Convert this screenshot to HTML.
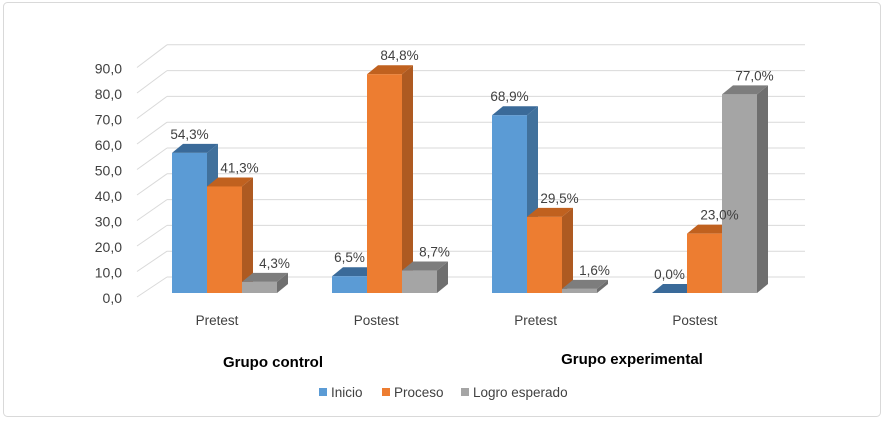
<!DOCTYPE html>
<html><head><meta charset="utf-8"><style>
body{margin:0;background:#fff}
svg{display:block;font-family:"Liberation Sans",sans-serif}
</style></head><body>
<svg id="c" width="884" height="421" viewBox="0 0 884 421">
<rect x="3.5" y="2.5" width="877" height="414" rx="4" fill="#fff" stroke="#d9d9d9"/>
<g id="grid"></g><g id="bars"></g><g id="labels"></g>
<text x="273" y="367" font-size="15" font-weight="bold" fill="#000" text-anchor="middle">Grupo control</text>
<text x="632" y="364" font-size="15" font-weight="bold" fill="#000" text-anchor="middle">Grupo experimental</text>
<g font-size="13.5" fill="#404040">
<rect x="319" y="388" width="8" height="8" fill="#5b9bd5"/>
<text x="331" y="397">Inicio</text>
<rect x="382" y="388" width="8" height="8" fill="#ed7d31"/>
<text x="394" y="397">Proceso</text>
<rect x="461" y="388" width="8" height="8" fill="#a5a5a5"/>
<text x="473" y="397">Logro esperado</text>
</g>
</svg>
<script>
const categories=["Pretest","Postest","Pretest","Postest"];
const inicio=[54.3,6.5,68.9,0.0];
const proceso=[41.3,84.8,29.5,23.0];
const logro=[4.3,8.7,1.6,77.0];
const ticks=[0,10,20,30,40,50,60,70,80,90];
const tickLabels=["0,0","10,0","20,0","30,0","40,0","50,0","60,0","70,0","80,0","90,0"];
const NS="http://www.w3.org/2000/svg";
function mk(t,a,p){const e=document.createElementNS(NS,t);for(const k in a)e.setAttribute(k,a[k]);p.appendChild(e);return e;}
const G=document.getElementById('grid'),B=document.getElementById('bars'),L=document.getElementById('labels');
const yBar=v=>293-2.58*v;
const yBack=v=>277-2.58*v;
const yFront=v=>298-2.55*v;
ticks.forEach((t,i)=>{
  const l=mk('line',{x1:167,x2:805,y1:yBack(t),y2:yBack(t),stroke:'#d9d9d9','stroke-width':1},G);
  
  
  const d=mk('line',{x1:137,y1:yFront(t)-1,x2:167,y2:yBack(t),stroke:'#d9d9d9','stroke-width':1},G);
  
  
  const tx=mk('text',{x:122,y:yFront(t)+5,'font-size':14,fill:'#404040','text-anchor':'end'},G);
  tx.textContent=tickLabels[i];
  
  
});
const series=[[inicio,'#5b9bd5','#41719c','#3a6a99','inicio',0],[proceso,'#ed7d31','#ae5a21','#c0611f','proceso',15],[logro,'#a5a5a5','#6f6f6f','#7d7d7d','logro',15]];
const W=35,DX=11,DY=9;
categories.forEach((c,gi)=>{
  const gx=172+gi*160;
  series.forEach((s,si)=>{
    const v=s[0][gi],x=gx+si*W,yt=yBar(v),yb=293;
    const g=mk('g',{},B);
    
    
    mk('polygon',{points:`${x+W},${yb} ${x+W+DX},${yb-DY} ${x+W+DX},${yt-DY} ${x+W},${yt}`,fill:s[2]},g);
    mk('polygon',{points:`${x},${yt} ${x+DX},${yt-DY} ${x+W+DX},${yt-DY} ${x+W},${yt}`,fill:s[3]},g);
    if(v>0)mk('rect',{x:x,y:yt,width:W,height:yb-yt,fill:s[1]},g);
    const t=mk('text',{x:x+W/2+s[5],y:yt-DY-5,'font-size':13.5,fill:'#404040','text-anchor':'middle'},L);
    t.textContent=v.toFixed(1).replace('.',',')+'%';
    
    
  });
  const ct=mk('text',{x:217+gi*159.3,y:325,'font-size':13.5,fill:'#404040','text-anchor':'middle'},L);
  ct.textContent=c;
  
  
});
</script>
</body></html>
